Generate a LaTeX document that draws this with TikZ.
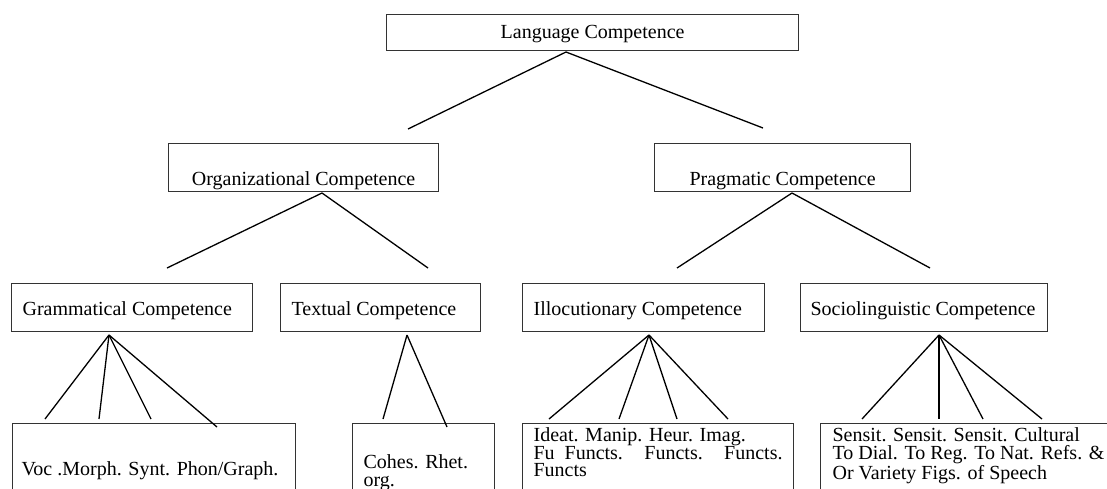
\documentclass[tikz,border=0pt]{standalone}
\usepackage{fontspec}
\setmainfont{Liberation Serif}
\tikzset{
  box/.style={draw=black!80, line width=0.6pt, anchor=north west, inner ysep=0pt, inner xsep=5.5pt, font=\fontsize{10}{8.75}\selectfont},
  toprow/.style={box, text height=12pt, text depth=6pt},
  midrow/.style={box, text height=21pt, text depth=3pt},
  comprow/.style={box, align=flush left, text height=16pt, text depth=8pt},
  subrow/.style={box, align=flush left, text depth=40pt}
}
\begin{document}
\begin{tikzpicture}[x=0.5pt,y=-0.5pt,line width=0.65pt]
\useasboundingbox (0,0) rectangle (1107,488);
\clip (0,0) rectangle (1107,488);

\node (lang) at (386,14) [toprow, minimum width=206pt] {Language Competence};

\node (org) at (168,143) [midrow, minimum width=135pt] {Organizational Competence};
\node (prag) at (654,143) [midrow, minimum width=128pt] {Pragmatic Competence};

\node (gram) at (11,283) [comprow, text width=109.5pt] {Grammatical Competence};
\node (textual) at (280,283) [comprow, text width=89pt] {Textual Competence};
\node (illoc) at (522,283) [comprow, text width=110pt] {Illocutionary Competence};
\node (socio) at (800,283) [comprow, inner xsep=5pt, text width=113.5pt] {Sociolinguistic Competence};

\node (voc) at (12,423) [subrow, inner xsep=4.5pt, text width=132.5pt, text height=26pt] {Voc .Morph. Synt. Phon/Graph.};
\node (cohes) at (352,423) [subrow, text width=60pt, text height=22.5pt] {Cohes. Rhet.\\ org.};
\node (ideat) at (522,423) [subrow, text width=124.5pt, text height=9pt]
  {Ideat. Manip. Heur. Imag.\\ \makebox[\linewidth][s]{Fu Functs. Functs. Functs.}\\ Functs};
\node (sensit) at (820,423) [subrow, inner xsep=6pt, text width=150pt, text height=9pt]
  {Sensit. Sensit. Sensit. Cultural\\ To Dial. To Reg. To Nat. Refs. \&\\ Or Variety Figs. of Speech};

\coordinate (lang-b) at (566,52);
\coordinate (org-t) at (408,129);
\coordinate (prag-t) at (763,128);
\coordinate (org-b) at (322,193);
\coordinate (gram-t) at (167,268);
\coordinate (textual-t) at (428,268);
\coordinate (prag-b) at (792,193);
\coordinate (illoc-t) at (677,268);
\coordinate (socio-t) at (930,268);

\coordinate (gram-b) at (109,335);
\coordinate (textual-b) at (407,335);
\coordinate (illoc-b) at (649,335);
\coordinate (socio-b) at (939,335);
\foreach \i/\x/\y in {1/45/419,2/99/419,3/151/419,4/217/427}
  \coordinate (voc-\i) at (\x,\y);
\foreach \i/\x/\y in {1/383/419,2/447/427}
  \coordinate (cohes-\i) at (\x,\y);
\foreach \i/\x/\y in {1/549/419,2/619/419,3/677/419,4/728/419}
  \coordinate (ideat-\i) at (\x,\y);
\foreach \i/\x/\y in {1/862/419,2/939/419,3/983/419,4/1042/419}
  \coordinate (sensit-\i) at (\x,\y);

\draw (lang-b) -- (org-t);
\draw (lang-b) -- (prag-t);
\draw (org-b) -- (gram-t);
\draw (org-b) -- (textual-t);
\draw (prag-b) -- (illoc-t);
\draw (prag-b) -- (socio-t);
\foreach \i in {1,...,4} \draw (gram-b) -- (voc-\i);
\foreach \i in {1,2} \draw (textual-b) -- (cohes-\i);
\foreach \i in {1,...,4} \draw (illoc-b) -- (ideat-\i);
\foreach \i in {1,...,4} \draw (socio-b) -- (sensit-\i);
\end{tikzpicture}
\end{document}
